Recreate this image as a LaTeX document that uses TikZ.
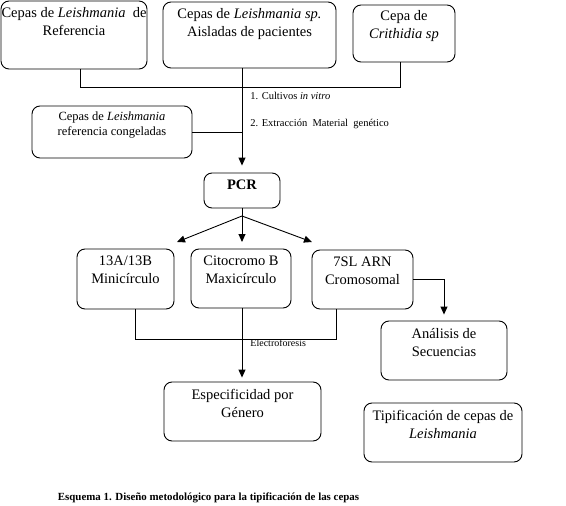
\documentclass[tikz,border=0pt]{standalone}
\usepackage{fontspec}
\setmainfont{Liberation Serif}
\usetikzlibrary{arrows.meta,positioning,calc}

\begin{document}
\begin{tikzpicture}[
    x=1pt, y=-1pt,
    line width=0.9pt,
    box/.style={rectangle, draw, rounded corners=8pt, inner sep=0pt},
    boxtext/.style={anchor=north, inner sep=0pt, align=center, font=\fontsize{14.5}{18}\selectfont},
    smalltext/.style={anchor=west, inner sep=0pt, font=\fontsize{10.5}{12}\selectfont},
    arr/.style={-{Triangle[width=7pt,length=8pt]}}
]
    \useasboundingbox (0,0) rectangle (566,506);

    % Cepas de partida
    \node[box, minimum width=146, minimum height=68] (ref) at (74,35) {};
    \node[boxtext, below=6pt of ref.north] (reft) {Cepas de \textit{Leishmania}\ \ de\\Referencia};
    \node[box, minimum width=173, minimum height=66] (pac) at (249.5,35) {};
    \node[boxtext, below=6pt of pac.north] (pact) {Cepas de \textit{Leishmania sp.}\\Aisladas de pacientes};
    \node[box, minimum width=102, minimum height=57] (cri) at (404,33.5) {};
    \node[boxtext, below=5pt of cri.north] (crit) {Cepa de\\\textit{Crithidia sp}};

    % Cepas congeladas
    \node[box, minimum width=160, minimum height=52] (cong) at (112,132) {};
    \node[boxtext, below=6pt of cong.north, font=\fontsize{12.5}{15}\selectfont] (congt) {Cepas de \textit{Leishmania}\\referencia congeladas};

    % PCR
    \node[box, minimum width=76, minimum height=35] (pcr) at (242,190.5) {};
    \node[boxtext, below=7pt of pcr.north, font=\fontsize{14.5}{18}\selectfont\bfseries] (pcrt) {PCR};

    % Marcadores
    \node[box, minimum width=97, minimum height=60] (mini) at (125.5,279) {};
    \node[boxtext, below=7pt of mini.north] (minit) {13A/13B\\Minicírculo};
    \node[box, minimum width=100, minimum height=59] (maxi) at (241,278.5) {};
    \node[boxtext, below=7pt of maxi.north] (maxit) {Citocromo B\\Maxicírculo};
    \node[box, minimum width=101, minimum height=59] (cromo) at (362.5,279.5) {};
    \node[boxtext, below=7pt of cromo.north] (cromot) {7SL ARN\\Cromosomal};

    % Resultados
    \node[box, minimum width=126, minimum height=59] (ana) at (444,350.5) {};
    \node[boxtext, below=7pt of ana.north] (anat) {Análisis de\\Secuencias};
    \node[box, minimum width=157, minimum height=59] (esp) at (242.5,411.5) {};
    \node[boxtext, below=7pt of esp.north] (espt) {Especificidad por\\Género};
    \node[box, minimum width=158, minimum height=59] (tip) at (443,432.5) {};
    \node[boxtext, below=7pt of tip.north] (tipt) {Tipificación de cepas de\\\textit{Leishmania}};

    % Etiquetas
    \node[smalltext] (cult) at (250,96) {1. Cultivos \textit{in vitro}};
    \node[smalltext] (extr) at (250,124) {2. Extracción\ \ Material\ \ genético};
    \node[smalltext, font=\fontsize{10}{12}\selectfont] (elec) at (250,343) {Electroforesis};
    \node[inner sep=0pt, font=\fontsize{10.9}{13}\selectfont\bfseries] (cap) at (208.5,498) {Esquema 1. Diseño metodológico para la tipificación de las cepas};

    % Conectores
    \coordinate (j1) at (80,87);
    \coordinate (j2) at (400,87);
    \draw (j1 |- ref.south) -- (j1) -- (j2) -- (j2 |- cri.south);
    \draw[arr, shorten >=7pt] (pac.south -| pcr.north) -- (pcr.north);
    \draw (cong.east) -- (cong.east -| pcr.north);

    \coordinate (split) at (242,216);
    \coordinate (tmini) at (177,242);
    \coordinate (tmaxi) at (242,242);
    \coordinate (tcromo) at (312,242);
    \draw (pcr.south) -- (split);
    \draw[arr] (split) -- (tmini);
    \draw[arr] (split) -- (tmaxi);
    \draw[arr] (split) -- (tcromo);

    \draw[arr, shorten >=6pt] (cromo.east) -| (ana.north);

    \coordinate (e1) at (135,339);
    \coordinate (e2) at (336,339);
    \draw (e1 |- mini.south) -- (e1) -- (e2) -- (e2 |- cromo.south);
    \draw[arr, shorten >=4pt] (maxi.south -| pcr.south) -- (esp.north -| pcr.south);
\end{tikzpicture}
\end{document}
